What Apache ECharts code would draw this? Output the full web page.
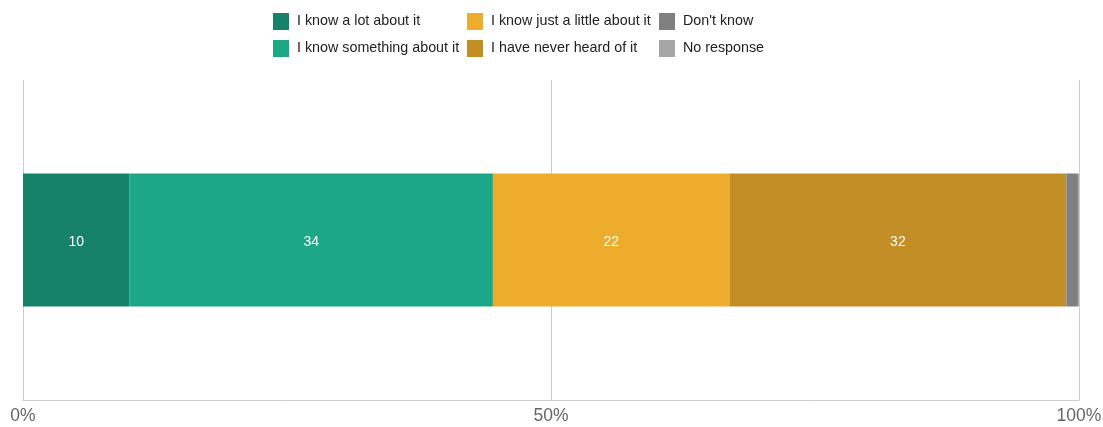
<!DOCTYPE html>
<html>
<head>
<meta charset="utf-8">
<script src="https://cdn.jsdelivr.net/npm/echarts@6/dist/echarts.min.js"></script>
<style>html,body{margin:0;padding:0;background:#fff;}#c{width:1103px;height:427px;}</style>
</head>
<body>
<div id="c"></div>
<script>
const categories = [''];
const seriesNames = ['I know a lot about it', 'I know something about it', 'I know just a little about it', 'I have never heard of it', "Don't know", 'No response'];
const seriesValues = [[10.1], [34.4], [22.4], [31.9], [1.1], [0.1]];
const seriesColors = ['#17826A', '#1CA886', '#EDAC2C', '#C38E25', '#808080', '#A6A6A6'];
const xTicks = [0, 50, 100];

const chart = echarts.init(document.getElementById('c'));
const legendBase = {
  orient: 'vertical', top: 13, padding: 0, itemWidth: 16, itemHeight: 17, itemGap: 10,
  icon: 'rect',
  textStyle: { fontSize: 14.3, color: '#222', fontFamily: 'Liberation Sans, Arial, sans-serif', padding: [0, 0, 0, 3] },
  selectedMode: false
};
chart.setOption({
  animation: false,
  legend: [
    Object.assign({}, legendBase, { left: 273, data: [seriesNames[0], seriesNames[1]] }),
    Object.assign({}, legendBase, { left: 467, data: [seriesNames[2], seriesNames[3]] }),
    Object.assign({}, legendBase, { left: 659, data: [seriesNames[4], seriesNames[5]] })
  ],
  grid: { left: 23, right: 24, top: 80, bottom: 27, containLabel: false, outerBoundsMode: 'none' },
  xAxis: {
    type: 'value', min: xTicks[0], max: xTicks[xTicks.length - 1], interval: 50,
    axisLine: { show: true, lineStyle: { color: '#ccc' } },
    axisTick: { show: false },
    splitLine: { show: true, lineStyle: { color: '#ccc' } },
    axisLabel: { formatter: '{value}%', color: '#666', fontSize: 17.5, margin: 7, fontFamily: 'Liberation Sans, Arial, sans-serif' }
  },
  yAxis: {
    type: 'category', data: categories, inverse: true,
    axisLine: { show: false }, axisTick: { show: false }, axisLabel: { show: false }
  },
  series: seriesNames.map((n, i) => ({
    name: n, type: 'bar', stack: 'total', barWidth: 133,
    itemStyle: { color: seriesColors[i] },
    label: {
      show: true, position: 'inside', color: '#fff', fontSize: 14,
      fontFamily: 'Liberation Sans, Arial, sans-serif', offset: [0, 2],
      formatter: p => p.value >= 5 ? String(Math.round(p.value)) : ''
    },
    data: seriesValues[i]
  }))
});
</script>
</body>
</html>
